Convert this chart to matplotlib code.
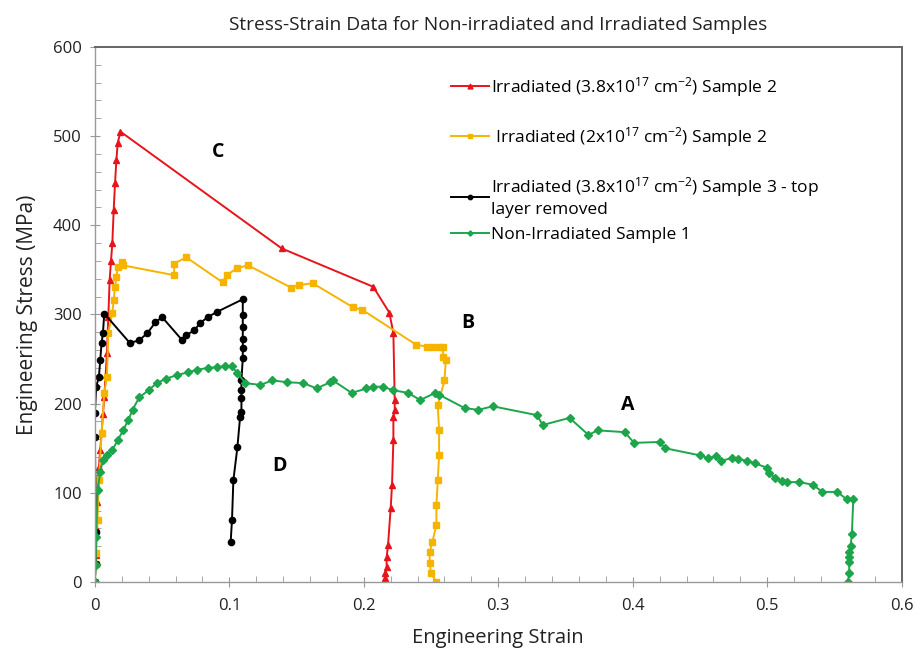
import matplotlib
matplotlib.use("Agg")
import matplotlib.pyplot as plt
from matplotlib.ticker import MultipleLocator, FormatStrFormatter

plt.rcParams["font.family"] = ["Open Sans", "DejaVu Sans"]
plt.rcParams["mathtext.fontset"] = "custom"
plt.rcParams["mathtext.rm"] = "Open Sans"
plt.rcParams["mathtext.it"] = "Open Sans"

# Irradiated (3.8x10^17) Sample 2 - red
red_strain = [0, 0.0005, 0.001, 0.0015, 0.002, 0.003, 0.004, 0.005, 0.006, 0.007,
              0.008, 0.009, 0.010, 0.011, 0.012, 0.013, 0.014, 0.015, 0.016, 0.017,
              0.019, 0.139, 0.207, 0.219, 0.222, 0.223, 0.223, 0.222, 0.222, 0.221,
              0.220, 0.218, 0.217, 0.217, 0.216, 0.216, 0.216]
red_stress = [0, 30, 60, 90, 105, 129, 148, 167, 188, 207,
              232, 257, 297, 339, 360, 380, 417, 447, 473, 492,
              505, 374, 331, 302, 279, 204, 193, 185, 159, 109,
              83, 41, 28, 17, 10, 4, 0]

# Irradiated (2x10^17) Sample 2 - yellow
yel_strain = [0, 0.0005, 0.001, 0.002, 0.003, 0.005, 0.007, 0.009, 0.010, 0.013,
              0.014, 0.015, 0.016, 0.017, 0.020, 0.021, 0.059, 0.059, 0.068, 0.095,
              0.098, 0.106, 0.114, 0.146, 0.152, 0.162, 0.192, 0.199, 0.239, 0.247,
              0.251, 0.256, 0.259, 0.259, 0.261, 0.260, 0.255, 0.256, 0.256, 0.255,
              0.254, 0.254, 0.251, 0.249, 0.249, 0.250, 0.254]
yel_stress = [0, 20, 33, 70, 114, 167, 212, 230, 279, 302,
              316, 331, 342, 353, 359, 355, 344, 357, 364, 336,
              344, 352, 355, 330, 333, 335, 308, 305, 266, 264,
              264, 264, 264, 252, 249, 226, 198, 170, 142, 114,
              86, 64, 45, 34, 21, 10, 0]

# Irradiated (3.8x10^17) Sample 3 - top layer removed - black
blk_strain = [0, 0.0005, 0.0008, 0.0, 0.0, 0.001, 0.003, 0.004, 0.005, 0.006,
              0.007, 0.026, 0.033, 0.039, 0.045, 0.050, 0.065, 0.068, 0.074, 0.078,
              0.084, 0.091, 0.110, 0.110, 0.110, 0.110, 0.110, 0.110, 0.109, 0.109,
              0.109, 0.109, 0.108, 0.106, 0.103, 0.102, 0.101]
blk_stress = [0, 20, 56, 163, 189, 219, 230, 249, 268, 279,
              301, 268, 271, 279, 291, 297, 271, 277, 282, 290,
              297, 303, 317, 299, 286, 273, 262, 251, 226, 215,
              206, 191, 185, 151, 114, 70, 45]

# Non-Irradiated Sample 1 - green
grn_strain = [0, 0.0005, 0.001, 0.002, 0.004, 0.006, 0.009, 0.013, 0.017, 0.021,
              0.025, 0.028, 0.033, 0.040, 0.046, 0.053, 0.061, 0.069, 0.076, 0.084,
              0.091, 0.097, 0.102, 0.106, 0.112, 0.123, 0.132, 0.143, 0.155, 0.165,
              0.175, 0.177, 0.191, 0.202, 0.207, 0.214, 0.222, 0.233, 0.242, 0.253,
              0.256, 0.275, 0.285, 0.296, 0.329, 0.333, 0.353, 0.367, 0.374, 0.394,
              0.401, 0.420, 0.424, 0.450, 0.456, 0.462, 0.466, 0.474, 0.478, 0.485,
              0.491, 0.500, 0.501, 0.506, 0.511, 0.515, 0.524, 0.534, 0.541, 0.552,
              0.559, 0.564, 0.563, 0.562, 0.561, 0.561, 0.561, 0.561, 0.560]
grn_stress = [0, 19, 50, 103, 123, 137, 142, 148, 159, 170,
              182, 193, 207, 215, 223, 228, 232, 235, 238, 240,
              241, 242, 242, 234, 223, 221, 226, 224, 223, 217,
              224, 226, 212, 217, 219, 219, 215, 212, 204, 212,
              210, 195, 193, 197, 187, 176, 184, 165, 170, 168,
              156, 157, 150, 142, 139, 141, 136, 139, 138, 136,
              133, 128, 122, 117, 113, 112, 112, 109, 101, 101,
              93, 93, 54, 40, 34, 28, 22, 10, 0]

red_label = "Irradiated (3.8x10$^{17}$ cm$^{-2}$) Sample 2"
yel_label = " Irradiated (2x10$^{17}$ cm$^{-2}$) Sample 2"
blk_label = "Irradiated (3.8x10$^{17}$ cm$^{-2}$) Sample 3 - top\nlayer removed"
grn_label = "Non-Irradiated Sample 1"

fig = plt.figure(figsize=(9.21, 6.51), dpi=100)
ax = fig.add_axes([0.103, 0.106, 0.876, 0.822])

lw = 1.4
l1, = ax.plot(red_strain, red_stress, color="#e8141b", marker="^", ms=5, lw=lw)
l2, = ax.plot(yel_strain, yel_stress, color="#f5b400", marker="s", ms=4.5, lw=lw)
l3, = ax.plot(blk_strain, blk_stress, color="black", marker="o", ms=4.5, lw=lw)
l4, = ax.plot(grn_strain, grn_stress, color="#1da54b", marker="D", ms=3.8, lw=lw)

ax.set_xlim(0, 0.6)
ax.set_ylim(0, 600)
ax.xaxis.set_major_locator(MultipleLocator(0.1))
ax.xaxis.set_minor_locator(MultipleLocator(0.02))
ax.yaxis.set_major_locator(MultipleLocator(100))
ax.yaxis.set_minor_locator(MultipleLocator(20))
ax.xaxis.set_major_formatter(FormatStrFormatter("%g"))
ax.tick_params(which="major", length=7, color="#999999", labelsize=12,
               direction="inout", labelcolor="#222222")
ax.tick_params(which="minor", length=4, color="#999999", direction="in")
ax.tick_params(axis="x", pad=8)
ax.tick_params(axis="y", pad=6)
for side in ["left", "bottom"]:
    ax.spines[side].set_color("#999999")
    ax.spines[side].set_linewidth(1.0)
for side in ["top", "right"]:
    ax.spines[side].set_color("#666666")
    ax.spines[side].set_linewidth(1.4)

ax.set_title("Stress-Strain Data for Non-irradiated and Irradiated Samples",
             fontsize=13.8, pad=12, color="#222222")
ax.set_xlabel("Engineering Strain", fontsize=14.5, labelpad=10, color="#222222")
ax.set_ylabel("Engineering Stress (MPa)", fontsize=15, labelpad=11, color="#222222")

for txt, x, y in [("C", 0.0915, 482), ("B", 0.277, 290), ("A", 0.396, 198), ("D", 0.1375, 130)]:
    ax.text(x, y, txt, fontsize=14, fontweight="bold", ha="center", va="center")

leg_kw = dict(loc="upper left", frameon=False, fontsize=12.5, handlelength=2.2,
              handletextpad=0.1, borderpad=0, borderaxespad=0, markerscale=0.7)
fig.legend([l1, l2, l3], [red_label, yel_label, blk_label],
           bbox_to_anchor=(0.490, 0.885), labelspacing=1.52, **leg_kw)
fig.legend([l4], [grn_label], bbox_to_anchor=(0.490, 0.652), **leg_kw)

fig.savefig("out.png", dpi=100)
